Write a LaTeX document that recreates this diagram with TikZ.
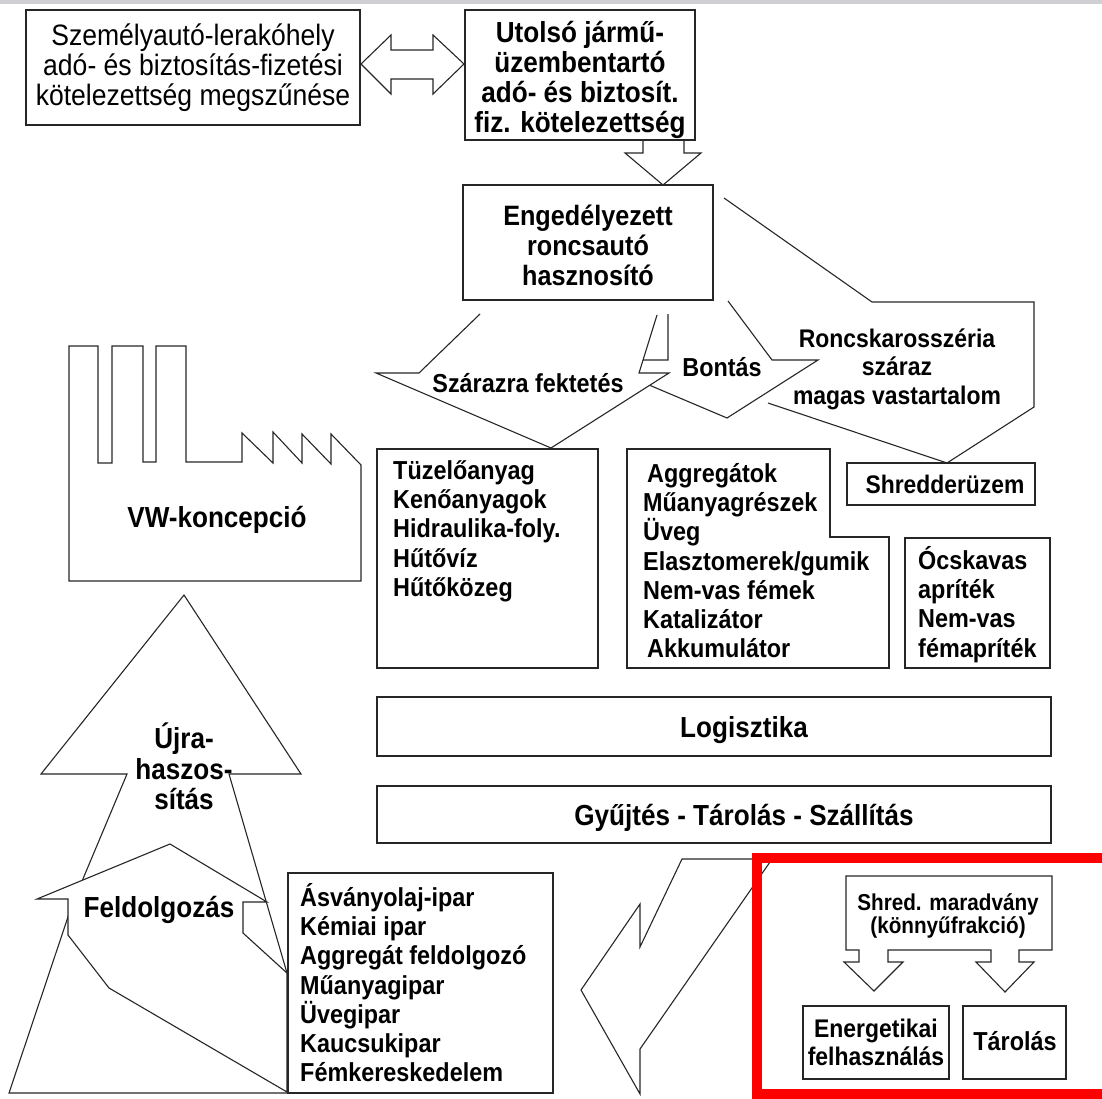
\documentclass[tikz,border=0pt]{standalone}
\usepackage{fontspec}
\setmainfont{Liberation Sans}[FakeStretch=0.9]
\definecolor{topbar}{RGB}{208,208,212}
\newcommand\fsr{\rule{0pt}{0.92em}}
\begin{document}
\begin{tikzpicture}[x=1pt,y=-1pt,
  ln/.style={draw=black!85, line width=1.1pt, line join=miter},
  t/.style 2 args={inner sep=0pt, font=\fontsize{#1}{#2}\selectfont\bfseries},
  tr/.style 2 args={inner sep=0pt, font=\fontsize{#1}{#2}\selectfont},
  lst/.style={t={26}{29.2}, align=left, anchor=north west},
  ctr/.style={align=center, anchor=north}]
\useasboundingbox (0,0) rectangle (1102,1099);
\fill[topbar] (0,0) rectangle (1102,4);

% top boxes and arrows
\draw[ln] (26,10) rectangle (360,125);
\draw[ln] (361,64) -- (391,35) -- (391,50) -- (433,50) -- (433,35) -- (464,64) -- (433,94) -- (433,79) -- (391,79) -- (391,94) -- cycle;
\draw[ln] (465,10) rectangle (695,140);
\draw[ln] (643,140) -- (643,153) -- (625,153) -- (663,185) -- (701,153) -- (684,153) -- (684,140);

% three block arrows out of the dismantler
\draw[ln] (724,198) -- (872,302) -- (1034,302) -- (1034,407) -- (947,463) -- (768,403);
\fill[white] (668,314) -- (668,360) -- (590,360) -- (727,418) -- (818,360) -- (772,360) -- (728,301) -- cycle;
\draw[ln] (668,314) -- (668,360) -- (590,360) -- (727,418) -- (818,360) -- (772,360) -- (728,301);
\fill[white] (480,314) -- (419,373) -- (376,373) -- (551,448) -- (669,373) -- (639,373) -- (657,315) -- cycle;
\draw[ln] (480,314) -- (419,373) -- (376,373) -- (551,448) -- (669,373) -- (639,373) -- (657,315);
\draw[ln] (463,185) rectangle (713,300);

% material boxes
\draw[ln] (377,449) rectangle (598,668);
\draw[ln] (627,449) -- (830,449) -- (830,537) -- (889,537) -- (889,668) -- (627,668) -- cycle;
\draw[ln] (905,538) rectangle (1050,668);
\draw[ln] (847,463) rectangle (1035,505);

% factory
\draw[ln] (69,581) -- (69,346) -- (98,346) -- (98,463) -- (112,463) -- (112,346) -- (143,346) -- (143,462) -- (156,462) -- (156,346) -- (186,346) -- (186,462) -- (242,462) -- (242,433) -- (273,463) -- (273,432) -- (302,463) -- (302,434) -- (331,464) -- (331,434) -- (361,465) -- (361,581) -- cycle;

% recycling arrows
\draw[ln, fill=white] (287,973) -- (229,774) -- (301,774) -- (184,595) -- (41,774) -- (127,774) -- (72,905) -- (9,1093) -- (288,1093) -- cycle;
\draw[ln, fill=white] (170,844) -- (37,899) -- (68,899) -- (68,935) -- (109,988) -- (287,1092) -- (287,973) -- (243,933) -- (243,902) -- (267,902) -- cycle;
\draw[ln, fill=white] (288,873) rectangle (553,1093);

% logistics bars
\draw[ln] (377,697) rectangle (1051,756);
\draw[ln] (377,786) rectangle (1051,843);

% bent arrow and red frame
\draw[ln] (682,859) -- (640,947) -- (640,904) -- (581,990) -- (640,1094) -- (640,1049) -- (770,862) -- (770,859) -- cycle;
\draw[red, line width=10pt] (757,858) rectangle (1125,1093.5);
\draw[ln] (846,876) -- (1052,876) -- (1052,950) -- (1019,950) -- (1019,962) -- (1034,962) -- (1005,992) -- (976,962) -- (991,962) -- (991,950) -- (888,950) -- (888,962) -- (903,962) -- (874,991) -- (844,962) -- (859,962) -- (859,950) -- (846,950) -- cycle;
\draw[ln] (803,1006) rectangle (949,1079);
\draw[ln] (963,1006) rectangle (1066,1079);

% texts
\node[tr={29.5}{30}, ctr] (tA) at (193,18.5) {\fsr Személyautó-lerakóhely\\adó- és biztosítás-fizetési\\kötelezettség megszűnése};
\node[t={29}{30}, ctr] (tB) at (580,15.8) {\fsr Utolsó jármű-\\üzembentartó\\adó- és biztosít.\\fiz. kötelezettség};
\node[t={28}{30}, ctr] (tC) at (588,199.3) {\fsr Engedélyezett\\roncsautó\\hasznosító};
\node[t={26}{26}, anchor=base] (tSz) at (528,392.4) {Szárazra fektetés};
\node[t={26}{26}, anchor=base] (tBo) at (722,376.4) {Bontás};
\node[t={25.5}{28.5}, ctr] (tRo) at (897,323.7) {\fsr Roncskarosszéria\\száraz\\magas vastartalom};
\node[t={25.4}{25.4}, anchor=base] (tSh) at (945,493.1) {Shredderüzem};
\node[lst] (tD) at (393,455.4) {\fsr Tüzelőanyag\\Kenőanyagok\\Hidraulika-foly.\\Hűtővíz\\Hűtőközeg};
\node[lst] (tE) at (643,458.4) {\fsr\hspace{4pt}Aggregátok\\Műanyagrészek\\Üveg\\Elasztomerek/gumik\\Nem-vas fémek\\Katalizátor\\\hspace{4pt}Akkumulátor};
\node[lst] (tF) at (918,545.4) {\fsr Ócskavas\\apríték\\Nem-vas\\fémapríték};
\node[t={29}{29}, anchor=base] (tVW) at (217,527.4) {VW-koncepció};
\node[t={29}{30.5}, ctr] (tU) at (184,721.8) {\fsr Újra-\\haszos-\\sítás};
\node[t={29}{29}, anchor=base] (tFe) at (159,917.4) {Feldolgozás};
\node[lst] (tG) at (300,882.4) {\fsr Ásványolaj-ipar\\Kémiai ipar\\Aggregát feldolgozó\\Műanyagipar\\Üvegipar\\Kaucsukipar\\Fémkereskedelem};
\node[t={29}{29}, anchor=base] (tLo) at (744,737.4) {Logisztika};
\node[t={29}{29}, anchor=base] (tGy) at (744,825.4) {Gyűjtés - Tárolás - Szállítás};
\node[t={23}{23}, ctr] (tSr) at (948,889.1) {\fsr Shred. maradvány\\(könnyűfrakció)};
\node[t={25.5}{28}, ctr] (tEn) at (876,1013.7) {\fsr Energetikai\\felhasználás};
\node[t={26}{26}, anchor=base] (tTa) at (1015,1050.4) {Tárolás};
\end{tikzpicture}
\end{document}
